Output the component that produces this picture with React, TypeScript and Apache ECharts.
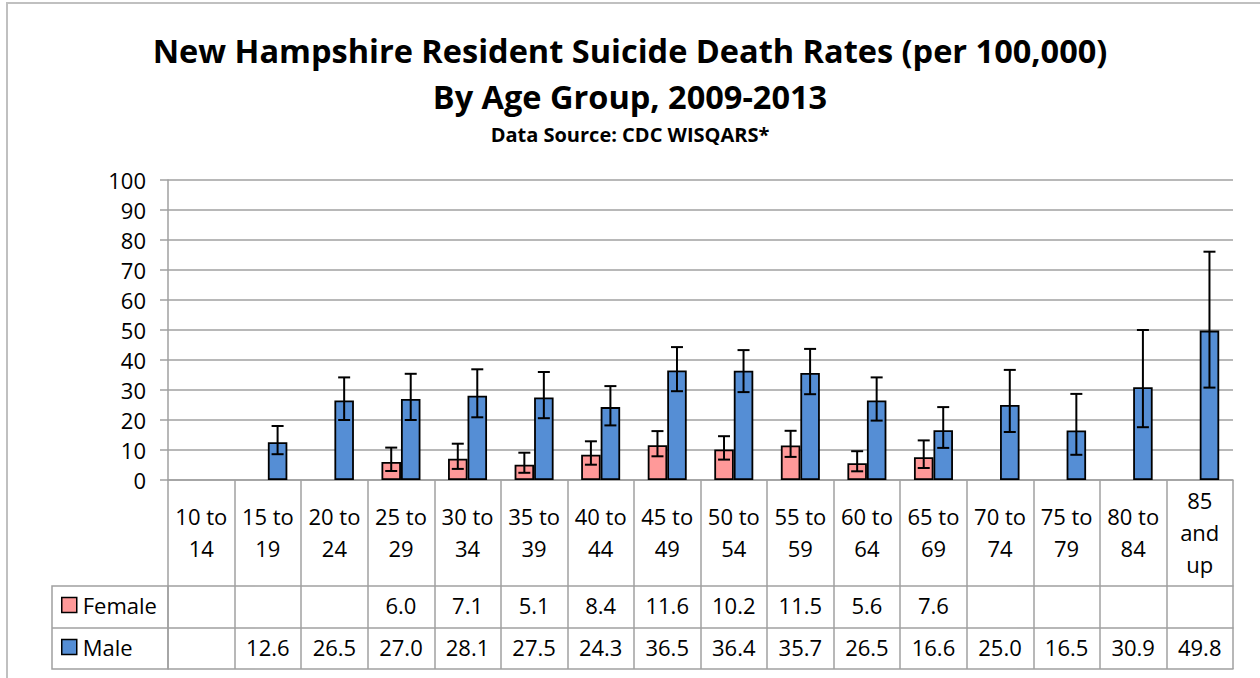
import React, { useEffect, useRef } from "react";
import * as echarts from "echarts";

const categories = [
  "10 to 14", "15 to 19", "20 to 24", "25 to 29", "30 to 34", "35 to 39", "40 to 44", "45 to 49",
  "50 to 54", "55 to 59", "60 to 64", "65 to 69", "70 to 74", "75 to 79", "80 to 84", "85 and up",
];
const female = [null, null, null, 6.0, 7.1, 5.1, 8.4, 11.6, 10.2, 11.5, 5.6, 7.6, null, null, null, null];
const male = [null, 12.6, 26.5, 27.0, 28.1, 27.5, 24.3, 36.5, 36.4, 35.7, 26.5, 16.6, 25.0, 16.5, 30.9, 49.8];
const femaleLow = [null, null, null, 3.0, 3.7, 2.4, 5.1, 7.9, 6.8, 7.7, 2.9, 4.0, null, null, null, null];
const femaleHigh = [null, null, null, 10.8, 12.1, 9.1, 12.9, 16.3, 14.6, 16.4, 9.6, 13.2, null, null, null, null];
const maleLow = [null, 8.6, 20.0, 20.0, 20.9, 20.6, 18.2, 29.6, 29.3, 28.6, 19.8, 10.7, 16.0, 8.4, 17.6, 30.8];
const maleHigh = [null, 18.0, 34.2, 35.4, 36.9, 36.0, 31.3, 44.3, 43.3, 43.7, 34.2, 24.3, 36.7, 28.7, 50.0, 76.1];
const yTicks = { min: 0, max: 100, interval: 10 };

const FONT = "'Open Sans', sans-serif";
const GRAY = "#a0a0a0";
const FEMALE_COLOR = "#ff9999";
const MALE_COLOR = "#558ed5";
const BAR_W = 19.5;

function errData(low: (number | null)[], high: (number | null)[]) {
  const out: number[][] = [];
  low.forEach((l, i) => {
    const h = high[i];
    if (l != null && h != null) out.push([i, l, h]);
  });
  return out;
}

function errRender(offset: number) {
  return (params: any, api: any) => {
    const idx = api.value(0);
    const lo = api.coord([idx, api.value(1)]);
    const hi = api.coord([idx, api.value(2)]);
    const x = lo[0] + offset;
    const cap = 6;
    const style = { stroke: "#000", lineWidth: 2 };
    return {
      type: "group",
      children: [
        { type: "line", shape: { x1: x, y1: lo[1], x2: x, y2: hi[1] }, style },
        { type: "line", shape: { x1: x - cap, y1: hi[1], x2: x + cap, y2: hi[1] }, style },
        { type: "line", shape: { x1: x - cap, y1: lo[1], x2: x + cap, y2: lo[1] }, style },
      ],
    };
  };
}

const fmt = (v: number | null) => (v == null ? "" : v.toFixed(1));
const wrapCat = (v: string) => (v.includes(" to ") ? v.replace(" to ", " to\n") : v.split(" ").join("\n"));

export default function App() {
  const ref = useRef<HTMLDivElement>(null);
  useEffect(() => {
    if (!ref.current) return;
    const chart = echarts.init(ref.current, undefined, { renderer: "svg" });
    const tableAxis = (offset: number, tickLen: number, labels: string[] | null, margin: number) => ({
      type: "category",
      data: categories,
      position: "bottom",
      offset,
      boundaryGap: true,
      axisLine: { show: true, lineStyle: { color: GRAY, width: 1.5 } },
      axisTick: { show: tickLen > 0, length: tickLen, interval: 0, lineStyle: { color: GRAY, width: 1.5 } },
      axisLabel: labels
        ? {
            show: true,
            interval: 0,
            margin,
            verticalAlign: "middle",
            fontFamily: FONT,
            fontSize: 22,
            color: "#000",
            formatter: (_v: string, i: number) => labels[i],
          }
        : { show: false },
      splitLine: { show: false },
    });
    chart.setOption({
      animation: false,
      backgroundColor: "#fff",
      textStyle: { fontFamily: FONT },
      title: {
        text: "New Hampshire Resident Suicide Death Rates (per 100,000)\nBy Age Group, 2009-2013",
        subtext: "Data Source: CDC WISQARS*",
        left: "center",
        top: 27,
        itemGap: 4,
        padding: 0,
        textStyle: { fontFamily: FONT, fontSize: 32.5, fontWeight: "bold", color: "#000", lineHeight: 46 },
        subtextStyle: { fontFamily: FONT, fontSize: 20, fontWeight: "bold", color: "#000", lineHeight: 22 },
      },
      legend: {
        data: ["Female", "Male"],
        orient: "vertical",
        left: 61,
        top: 594,
        padding: 0,
        itemWidth: 15,
        itemHeight: 15,
        itemGap: 20,
        icon: "rect",
        selectedMode: false,
        itemStyle: { borderColor: "#000", borderWidth: 1.5 },
        textStyle: { fontFamily: FONT, fontSize: 22, color: "#000", lineHeight: 22, padding: [0, 0, 0, 1] },
      },
      grid: { left: 168, right: 27, top: 180, bottom: 198, containLabel: false, outerBoundsMode: "none" },
      xAxis: [
        {
          ...tableAxis(0, 106, categories.map(wrapCat), 53),
          axisLabel: {
            show: true,
            interval: 0,
            margin: 52,
            verticalAlign: "middle",
            fontFamily: FONT,
            fontSize: 22,
            lineHeight: 32,
            color: "#000",
            formatter: (v: string) => wrapCat(v),
          },
        },
        tableAxis(106, 42, female.map(fmt), 19),
        tableAxis(148, 41, male.map(fmt), 19),
        tableAxis(189, 0, null, 0),
      ],
      yAxis: {
        type: "value",
        min: yTicks.min,
        max: yTicks.max,
        interval: yTicks.interval,
        axisLine: { show: true, lineStyle: { color: GRAY, width: 1.5 } },
        axisTick: { show: true, length: 8, lineStyle: { color: GRAY, width: 1.5 } },
        axisLabel: { fontFamily: FONT, fontSize: 22, color: "#000", margin: 22 },
        splitLine: { show: true, lineStyle: { color: GRAY, width: 1.5 } },
      },
      series: [
        {
          name: "Female",
          type: "bar",
          data: female,
          barWidth: BAR_W,
          barGap: "0%",
          itemStyle: { color: FEMALE_COLOR, borderColor: "#000", borderWidth: 1.8 },
        },
        {
          name: "Male",
          type: "bar",
          data: male,
          barWidth: BAR_W,
          barGap: "0%",
          itemStyle: { color: MALE_COLOR, borderColor: "#000", borderWidth: 1.8 },
        },
        {
          name: "Female error",
          type: "custom",
          data: errData(femaleLow, femaleHigh),
          renderItem: errRender(-BAR_W / 2),
          encode: { x: 0, y: [1, 2] },
          z: 5,
        },
        {
          name: "Male error",
          type: "custom",
          data: errData(maleLow, maleHigh),
          renderItem: errRender(BAR_W / 2),
          encode: { x: 0, y: [1, 2] },
          z: 5,
        },
      ],
      graphic: [
        {
          type: "rect",
          shape: { x: 7, y: 3, width: 1300, height: 720 },
          style: { fill: "none", stroke: "#c0c0c0", lineWidth: 2 },
          silent: true,
        },
        {
          type: "rect",
          shape: { x: 52, y: 586, width: 116, height: 83 },
          style: { fill: "none", stroke: GRAY, lineWidth: 1.5 },
          silent: true,
        },
        {
          type: "line",
          shape: { x1: 52, y1: 628, x2: 168, y2: 628 },
          style: { stroke: GRAY, lineWidth: 1.5 },
          silent: true,
        },
      ],
    });
    return () => chart.dispose();
  }, []);
  return <div ref={ref} style={{ position: "fixed", left: 0, top: 0, width: 1260, height: 678 }} />;
}
